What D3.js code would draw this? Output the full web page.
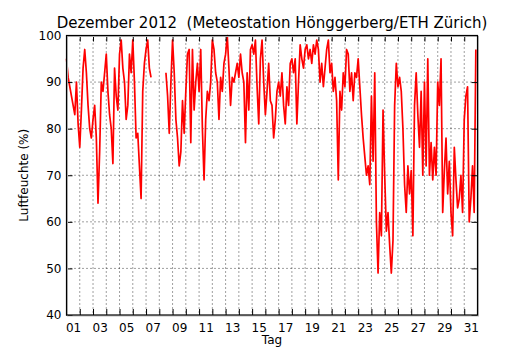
<!DOCTYPE html>
<html><head><meta charset="utf-8">
<script src="https://cdn.jsdelivr.net/npm/d3@7"></script>
<style>body{margin:0;background:#fff}svg{display:block}</style></head>
<body>
<svg id="c" width="530" height="350"></svg>
<script>
const title = "Dezember 2012  (Meteostation Hönggerberg/ETH Zürich)";
const xTitle = "Tag";
const yTitle = "Luftfeuchte (%)";
const dayLabels = ["01","03","05","07","09","11","13","15","17","19","21","23","25","27","29","31"];
const yTicks = [40, 50, 60, 70, 80, 90, 100];
const samplesPerDay = 8; // one value every 3 hours
const humidity = [
  95,91,89,87,85,83,90,81,
  76,84,93,97,92,85,80,78,
  82,85,78,64,75,90,88,92,
  96,88,83,80,72.5,93,87,84,
  96,99,93,90,82,85,96,92,
  99,90,78,79,72,65,88,94,
  97,99,93,91,null,null,null,null,
  null,null,null,null,92,87,79,90,
  99,92,82,78,72,75,86,79,
  88,96,97,77,97,84,90,94,
  88,97,80,69,82,88,86,90,
  99,97,92,90,82,91,88,94,
  96,100,93,85,91,90,92,94,
  91,96,92,90,77,92,84,97,
  98,96,99,89,81,95,99,90,
  83,88,94,86,85,78,82,88,
  90,87,92,85,81,89,85,94,
  95,92,95,81,90,98,95,93,
  97,98,95,97,94,98,96,99,
  97,90,94,89,93,97,99,92,
  94,88,91,86,69,88,84,92,
  89,97,96,88,92,86,92,91,
  95,89,83,78,74,70,72,68,
  87,73,92,60,49,62,57,84,
  70,58,62,55,49,56,85,94,
  89,91,88,80,68,62,72,66,
  71,57,85,92,83,76,88,70,
  90,72,95,70,77,69,76,70,
  90,85,95,62,71,78,66,73,
  62,57,76,69,63,65,70,62,
  82,87,89,60,65,72,62,97
];

const L = 66.5, R = 477.5, T = 35.5, B = 315;
const svg = d3.select("#c");
const font = "DejaVu Sans, sans-serif";
const x = d3.scaleLinear().domain([0, 31]).range([L, R]);
const y = d3.scaleLinear().domain([40, 100]).range([B, T]);

const dayTicks = d3.range(1, 31);
const labelPos = dayLabels.map(d => +d - 0.5);

// grid
const g = svg.append("g");
g.selectAll("line.vx").data(dayTicks).join("line")
  .attr("x1", d => x(d)).attr("x2", d => x(d)).attr("y1", T).attr("y2", B)
  .attr("stroke", "#000").attr("stroke-width", 1).attr("stroke-dasharray", "1,3").attr("opacity", 0.75);
g.selectAll("line.hy").data(yTicks.slice(1, -1)).join("line")
  .attr("x1", L).attr("x2", R).attr("y1", d => y(d)).attr("y2", d => y(d))
  .attr("stroke", "#000").attr("stroke-width", 1).attr("stroke-dasharray", "1,3").attr("opacity", 0.75);

// data line
const pts = humidity.map((v, i) => ({t: i / samplesPerDay, v}));
const line = d3.line().defined(d => d.v != null).x(d => x(d.t)).y(d => y(d.v));
svg.append("path").datum(pts).attr("d", line)
  .attr("fill", "none").attr("stroke", "#ff0000").attr("stroke-width", 1.7).attr("stroke-linejoin", "round");

// inner ticks
function styleAxis(sel) {
  sel.select(".domain").remove();
  sel.selectAll("line").attr("stroke", "#000");
  sel.selectAll("text").attr("font-family", font).attr("font-size", 12).attr("fill", "#000");
}
svg.append("g").attr("transform", `translate(0,${B})`)
  .call(d3.axisBottom(x).tickValues(dayTicks).tickSize(-6).tickFormat("")).call(styleAxis);
svg.append("g").attr("transform", `translate(0,${T})`)
  .call(d3.axisTop(x).tickValues(dayTicks).tickSize(-6).tickFormat("")).call(styleAxis);
svg.append("g").attr("transform", `translate(${L},0)`)
  .call(d3.axisLeft(y).tickValues(yTicks).tickSize(-6).tickPadding(5)).call(styleAxis);
svg.append("g").attr("transform", `translate(${R},0)`)
  .call(d3.axisRight(y).tickValues(yTicks).tickSize(-6).tickFormat("")).call(styleAxis);
svg.append("g").attr("transform", `translate(0,${B})`)
  .call(d3.axisBottom(x).tickValues(labelPos).tickSize(0).tickPadding(8).tickFormat((d, i) => dayLabels[i])).call(styleAxis);

// frame
svg.append("rect").attr("x", L + 1).attr("y", T + 1).attr("width", R - L).attr("height", B - T)
  .attr("fill", "none").attr("stroke", "#bbb").attr("stroke-width", 1);
svg.append("rect").attr("x", L).attr("y", T).attr("width", R - L).attr("height", B - T)
  .attr("fill", "none").attr("stroke", "#000").attr("stroke-width", 1.2);

// titles
svg.append("text").attr("x", (L + R) / 2).attr("y", 28).attr("text-anchor", "middle")
  .attr("xml:space", "preserve").style("white-space", "pre")
  .attr("font-family", font).attr("font-size", 15).text(title);
svg.append("text").attr("x", (L + R) / 2).attr("y", 344).attr("text-anchor", "middle")
  .attr("font-family", font).attr("font-size", 12).text(xTitle);
svg.append("text").attr("transform", `translate(28,${(T + B) / 2}) rotate(-90)`).attr("text-anchor", "middle")
  .attr("font-family", font).attr("font-size", 12).text(yTitle);
</script>
</body></html>
